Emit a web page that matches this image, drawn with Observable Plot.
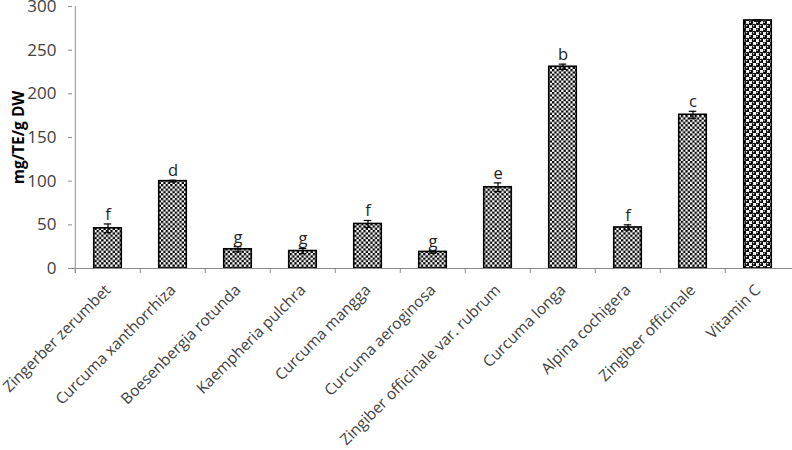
<!DOCTYPE html>
<html>
<head>
<meta charset="utf-8">
<script src="https://cdn.jsdelivr.net/npm/d3@7"></script>
<script src="https://cdn.jsdelivr.net/npm/@observablehq/plot@0.6"></script>
<style>
  body { margin: 0; background: #fff; }
  #chart svg { display: block; }
</style>
</head>
<body>
<div id="chart"></div>
<script>
const categories = [
  "Zingerber zerumbet", "Curcuma xanthorrhiza", "Boesenbergia rotunda", "Kaempheria pulchra",
  "Curcuma mangga", "Curcuma aeroginosa", "Zingiber officinale var. rubrum", "Curcuma longa",
  "Alpina cochigera", "Zingiber officinale", "Vitamin C"
];
const values = [46, 100, 22, 20, 51, 19, 93, 231, 47, 176, 284];
const errors = [5, 1, 3, 3, 4, 1.5, 5, 3, 3, 4, 1];
const letters = ["f", "d", "g", "g", "f", "g", "e", "b", "f", "c", ""];
const yTicks = [0, 50, 100, 150, 200, 250, 300];
const yTitle = "mg/TE/g DW";

const data = categories.map((c, i) => ({name: c, v: values[i], e: errors[i], lab: letters[i]}));

const W = 792, H = 450, mL = 72, mR = 0, mT = 6, mB = 182;
const step = (W - mL - mR) / categories.length;
const barW = 28;
const inset = (step - barW) / 2;
const font = "'Open Sans', sans-serif";

const plot = Plot.plot({
  width: W, height: H,
  marginLeft: mL, marginRight: mR, marginTop: mT, marginBottom: mB,
  style: {fontFamily: font, background: "#fff"},
  x: {domain: categories, padding: 0, label: null},
  y: {domain: [0, 300], label: null},
  marks: [
    Plot.axisY({ticks: yTicks, tickSize: 4, tickPadding: 12, stroke: "#8c8c8c", color: "#404040", fontSize: 17, label: null}),
    Plot.axisX({tickSize: 0, tickRotate: -45, tickPadding: 19, fontSize: 15.5, color: "#404040", label: null}),
    Plot.barY(data.filter(d => d.name !== "Vitamin C"), {x: "name", y: "v", fill: "url(#checker)", stroke: "#000", strokeWidth: 1.6, insetLeft: inset, insetRight: inset}),
    Plot.barY(data.filter(d => d.name === "Vitamin C"), {x: "name", y: "v", fill: "url(#circles)", stroke: "#000", strokeWidth: 1.6, insetLeft: inset, insetRight: inset}),
    Plot.ruleX(data, {x: "name", y1: d => d.v - d.e, y2: d => d.v + d.e, stroke: "#000", strokeWidth: 1.2}),
    Plot.tickY(data, {x: "name", y: d => d.v + d.e, stroke: "#000", strokeWidth: 1.2, insetLeft: step / 2 - 4, insetRight: step / 2 - 4}),
    Plot.tickY(data, {x: "name", y: d => d.v - d.e, stroke: "#000", strokeWidth: 1.2, insetLeft: step / 2 - 4, insetRight: step / 2 - 4}),
    Plot.text(data, {x: "name", y: d => d.v + d.e, text: "lab", lineAnchor: "bottom", dy: -4, fontSize: 16.5, fill: "#222"}),
    Plot.ruleY([0], {stroke: "#8c8c8c", strokeWidth: 1}),
    Plot.ruleX(categories, {x: d => d, dx: -step / 2, insetTop: H - mT - mB, insetBottom: -5, stroke: "#8c8c8c", strokeWidth: 1}),
    Plot.ruleX([categories[0]], {x: d => d, dx: -step / 2, insetBottom: -5, stroke: "#8c8c8c", strokeWidth: 1}),
    Plot.text([yTitle], {frameAnchor: "left", dx: -53, rotate: -90, textAnchor: "middle", fontWeight: "bold", fontSize: 15.5, fill: "#000"})
  ]
});

const svgNS = "http://www.w3.org/2000/svg";
const defs = document.createElementNS(svgNS, "defs");
defs.innerHTML = `
  <pattern id="checker" width="4.6" height="4.6" patternUnits="userSpaceOnUse">
    <rect width="4.6" height="4.6" fill="#fff"/>
    <rect width="2.3" height="2.3" fill="#000"/>
    <rect x="2.3" y="2.3" width="2.3" height="2.3" fill="#000"/>
  </pattern>
  <pattern id="circles" width="7" height="7" patternUnits="userSpaceOnUse">
    <rect width="7" height="7" fill="#fff"/>
    <circle cx="1.75" cy="1.75" r="2.4" fill="#000"/>
    <circle cx="5.25" cy="5.25" r="2.4" fill="#000"/>
    <circle cx="1.2" cy="1.2" r="0.75" fill="#fff"/>
    <circle cx="4.7" cy="4.7" r="0.75" fill="#fff"/>
  </pattern>`;
plot.insertBefore(defs, plot.firstChild);
document.getElementById("chart").appendChild(plot);
</script>
</body>
</html>
